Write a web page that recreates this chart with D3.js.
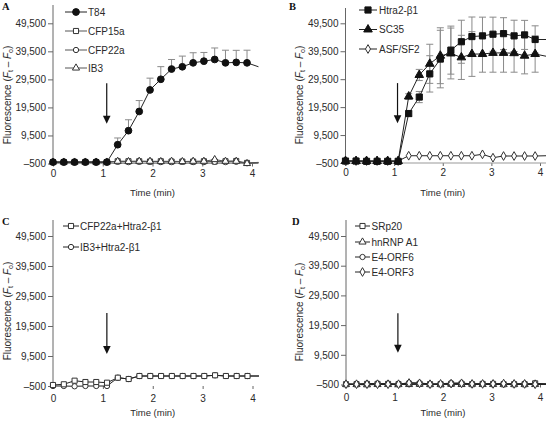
<!DOCTYPE html>
<html><head><meta charset="utf-8">
<script src="https://cdn.jsdelivr.net/npm/d3@7"></script>
<style>
body{margin:0;background:#fff}
svg{display:block}
text{font-family:"Liberation Sans",Arial,Helvetica,sans-serif}
</style>
</head><body>
<svg id="chart" width="546" height="421"></svg>
<script>
// ---------- shared data ----------
const times = [0, 0.217, 0.433, 0.65, 0.867, 1.083, 1.3, 1.517, 1.733, 1.95, 2.167, 2.383, 2.6, 2.817, 3.033, 3.25, 3.467, 3.683, 3.9];
const tailTime = 4.13;
const xTicks = [0, 1, 2, 3, 4];
const xTickLabels = ["0", "1", "2", "3", "4"];
const yTicks = [-500, 9500, 19500, 29500, 39500, 49500];
const yTickLabels = ["\u2013500", "9,500", "19,500", "29,500", "39,500", "49,500"];
const panelLetters = ["A", "B", "C", "D"];
const xTitle = "Time (min)";

// ---------- panel A ----------
const namesA = ["T84", "CFP15a", "CFP22a", "IB3"];
const t84 = [0, 0, 0, 0, 0, 0, 6200, 11200, 18050, 25740, 29540, 33190, 34000, 35400, 36000, 36600, 35400, 35560, 35400];
const t84Err = [0, 0, 0, 0, 0, 0, 2400, 3900, 3900, 4200, 4500, 3400, 3800, 3600, 3100, 4100, 4500, 4300, 4500];
const cfp15a = [0, 0, 0, 0, 0, 0, 300, 300, 300, 200, 300, 200, 200, 200, 300, 200, 300, 400, -300];
const cfp22a = [0, 0, 0, 0, 0, 0, 100, 0, 100, 100, 0, 0, 100, 0, 0, 100, 0, 100, -400];
const ib3 = [0, 0, 0, 0, 0, 0, 300, 200, 300, 300, 200, 300, 200, 300, 300, 900, 300, 300, -500];
const tailA = [34000, -100, -200, -200];
const arrowA = [1.08, 28100, 13700];

// ---------- panel B ----------
const namesB = ["Htra2-\u03B21", "SC35", "ASF/SF2"];
const htra2 = [200, 200, 100, 100, 100, 100, 17200, 23100, 31400, 36700, 39900, 42900, 44750, 45000, 45600, 45800, 45000, 45350, 43700];
const htra2Err = [0, 0, 0, 0, 0, 0, 1000, 2000, 6500, 10300, 8600, 7700, 7000, 6700, 6100, 5700, 5600, 5200, 4900];
const sc35 = [200, 200, 200, 200, 200, 200, 23300, 31000, 35000, 37900, 38700, 37300, 38500, 38500, 38900, 38900, 38800, 37900, 38500];
const sc35Err = [0, 0, 0, 0, 0, 0, 1000, 2000, 7000, 10000, 9100, 7900, 8000, 6500, 6900, 6900, 6800, 6500, 6500];
const asfsf2 = [200, 200, 200, 200, 200, 200, 2100, 2100, 2100, 2100, 2100, 2100, 2100, 2600, 1400, 2000, 2000, 2000, 2000];
const tailB = [43700, 37700, 2100];
const arrowB = [1.07, 28100, 13700];

// ---------- panel C ----------
const namesC = ["CFP22a+Htra2-\u03B21", "IB3+Htra2-\u03B21"];
const cfp22aHtra2 = [-170, 70, 1270, 830, 830, 600, 2270, 1830, 2830, 2830, 2830, 2830, 2830, 2830, 2830, 3070, 2830, 2830, 2830];
const ib3Htra2 = [-500, -500, -600, -500, -500, -500, 2270, 1830, 2830, 2830, 2830, 2830, 2830, 2830, 2830, 3070, 2830, 2830, 2830];
const tailC = [2830, 2830];
const arrowC = [1.08, 23800, 10200];

// ---------- panel D ----------
const namesD = ["SRp20", "hnRNP A1", "E4-ORF6", "E4-ORF3"];
const srp20 = [-400, -400, -300, -300, -300, -400, -300, -300, -400, -400, -300, -300, -400, -300, -300, -400, -400, -400, -100];
const hnrnpA1 = [-500, -500, -600, -500, -500, -500, -500, -400, -500, -500, -400, -500, -400, -500, -500, -500, -500, -500, -500];
const e4orf6 = [-300, -400, -200, -200, -200, -400, 100, 0, -300, -300, 0, 0, -300, -300, -200, -300, -300, -200, -400];
const e4orf3 = [-400, -400, -400, -400, -400, -400, 0, -100, -400, -300, -200, -100, -300, -300, -300, -200, -300, -300, -400];
const tailD = [-300, -500, -300, -400];
const arrowD = [1.07, 23500, 10200];

// ---------- drawing ----------
const svg = d3.select("#chart");
const TXT = "#2a2a2a", AX = "#666";

const symbolOf = {
  circle: d3.symbolCircle, square: d3.symbolSquare,
  triangle: d3.symbolTriangle, diamond: d3.symbolDiamond
};

function drawMarker(g, m, cx, cy) {
  g.append("path")
    .attr("d", d3.symbol().type(symbolOf[m.type]).size(m.size)())
    .attr("transform", `translate(${cx},${cy})`)
    .attr("fill", m.filled ? "#111" : "#fff")
    .attr("stroke", m.filled ? "#111" : (m.stroke || "#333"))
    .attr("stroke-width", 1);
}

function drawPanel(cfg) {
  const g = svg.append("g");
  const x = d3.scaleLinear().domain([0, 4]).range(cfg.xr);
  const y = d3.scaleLinear().domain([-500, 49500]).range(cfg.yr);

  // panel letter
  g.append("text").attr("x", cfg.letter[0]).attr("y", cfg.letter[1])
    .style("font-family", "'Liberation Serif','Times New Roman',serif")
    .attr("font-weight", "bold").attr("font-size", 10.5).attr("fill", "#111")
    .text(cfg.letterText);

  // y axis
  g.append("line").attr("x1", x(0)).attr("x2", x(0))
    .attr("y1", cfg.axisTop).attr("y2", y(-500) + 1).attr("stroke", AX).attr("stroke-width", 1);
  const ya = g.append("g").attr("transform", `translate(${x(0)},0)`)
    .call(d3.axisLeft(y).tickValues(yTicks).tickFormat((d, i) => yTickLabels[i]).tickSize(5).tickPadding(2));
  ya.select(".domain").remove();
  ya.selectAll("line").attr("stroke", AX);
  ya.selectAll("text").attr("font-size", 10).attr("fill", TXT);

  // x axis
  const xa = g.append("g").attr("transform", `translate(0,${y(-500)})`)
    .call(d3.axisBottom(x).tickValues(xTicks).tickFormat((d, i) => xTickLabels[i]).tickSize(3).tickPadding(cfg.xPad));
  xa.select(".domain").remove();
  xa.selectAll("line").attr("stroke", AX);
  xa.selectAll("text").attr("font-size", 10).attr("fill", TXT);
  if (cfg.baseLine) {
    g.append("line").attr("x1", x(0)).attr("x2", x(tailTime))
      .attr("y1", y(-500)).attr("y2", y(-500)).attr("stroke", "#999").attr("stroke-width", 1);
  }

  // axis titles
  g.append("text").attr("x", (x(0) + x(4)) / 2).attr("y", cfg.xTitleY)
    .attr("text-anchor", "middle").attr("font-size", 9.5).attr("fill", TXT).text(xTitle);
  const yt = g.append("text")
    .attr("transform", `translate(${cfg.yTitle[0]},${cfg.yTitle[1]}) rotate(-90)`)
    .attr("text-anchor", "middle").attr("font-size", 10).attr("fill", TXT);
  yt.append("tspan").text("Fluorescence (");
  yt.append("tspan").attr("font-style", "italic").text("F");
  yt.append("tspan").attr("font-size", 7).attr("dy", 2).text("t");
  yt.append("tspan").attr("dy", -2).text(" \u2013 ");
  yt.append("tspan").attr("font-style", "italic").text("F");
  yt.append("tspan").attr("font-size", 7).attr("dy", 2).text("o");
  yt.append("tspan").attr("dy", -2).text(")");

  // error bars
  cfg.series.forEach(s => {
    if (!s.err) return;
    s.values.forEach((v, i) => {
      const e = s.err[i];
      if (!e) return;
      const cx = x(times[i]);
      const top = y(v + e), bot = s.both ? y(v - e) : y(v);
      g.append("line").attr("x1", cx).attr("x2", cx).attr("y1", top).attr("y2", bot)
        .attr("stroke", "#8a8a8a").attr("stroke-width", 1);
      g.append("line").attr("x1", cx - 3.5).attr("x2", cx + 3.5).attr("y1", top).attr("y2", top)
        .attr("stroke", "#8a8a8a").attr("stroke-width", 1);
      if (s.both) g.append("line").attr("x1", cx - 3.5).attr("x2", cx + 3.5).attr("y1", bot).attr("y2", bot)
        .attr("stroke", "#8a8a8a").attr("stroke-width", 1);
    });
  });

  // lines
  const line = d3.line().x(d => x(d[0])).y(d => y(d[1]));
  cfg.series.forEach(s => {
    const pts = s.values.map((v, i) => [times[i], v]).concat([[tailTime, s.tail]]);
    g.append("path").attr("d", line(pts)).attr("fill", "none")
      .attr("stroke", s.lineColor || "#222").attr("stroke-width", 1);
  });
  // markers
  cfg.series.forEach(s => {
    s.values.forEach((v, i) => drawMarker(g, s.marker, x(times[i]), y(v)));
  });

  // arrow
  const ax = x(cfg.arrow[0]), ay0 = y(cfg.arrow[1]), ay1 = y(cfg.arrow[2]);
  g.append("line").attr("x1", ax).attr("x2", ax).attr("y1", ay0).attr("y2", ay1 - 6)
    .attr("stroke", "#111").attr("stroke-width", 1.2);
  g.append("path").attr("d", `M${ax - 3.8},${ay1 - 8}L${ax + 3.8},${ay1 - 8}L${ax},${ay1}Z`).attr("fill", "#111");

  // legend
  const L = cfg.legend;
  cfg.legendOrder.forEach((s, i) => {
    const ly = L.ys[i];
    g.append("line").attr("x1", L.x0).attr("x2", L.x1).attr("y1", ly).attr("y2", ly)
      .attr("stroke", s.lineColor || "#222").attr("stroke-width", 1);
    drawMarker(g, s.marker, (L.x0 + L.x1) / 2, ly);
    g.append("text").attr("x", L.tx).attr("y", ly).attr("dy", "0.36em")
      .attr("font-size", 10).attr("fill", TXT).text(s.name);
  });
}

const mk = {
  filledCircle: { type: "circle", filled: true, size: 36 },
  openSquare: { type: "square", filled: false, size: 26 },
  openCircle: { type: "circle", filled: false, size: 22 },
  openTriangle: { type: "triangle", filled: false, size: 22 },
  filledSquare: { type: "square", filled: true, size: 38 },
  filledTriangle: { type: "triangle", filled: true, size: 32 },
  openDiamond: { type: "diamond", filled: false, size: 22 }
};

// Panel A
const sA = [
  { name: namesA[0], values: t84, err: t84Err, both: false, tail: tailA[0], marker: mk.filledCircle },
  { name: namesA[1], values: cfp15a, tail: tailA[1], marker: mk.openSquare, lineColor: "#555" },
  { name: namesA[2], values: cfp22a, tail: tailA[2], marker: mk.openCircle, lineColor: "#555" },
  { name: namesA[3], values: ib3, tail: tailA[3], marker: mk.openTriangle, lineColor: "#555" }
];
drawPanel({
  letterText: panelLetters[0], letter: [2, 9.5],
  xr: [53, 252], yr: [163.5, 23.3], axisTop: 5, xPad: 3, xTitleY: 196, yTitle: [11, 95],
  baseLine: true, arrow: arrowA,
  series: [sA[1], sA[2], sA[3], sA[0]], legendOrder: sA,
  legend: { x0: 65, x1: 87, tx: 88, ys: [12, 31, 50, 68] }
});

// Panel B
const sB = [
  { name: namesB[0], values: htra2, err: htra2Err, both: true, tail: tailB[0], marker: mk.filledSquare },
  { name: namesB[1], values: sc35, err: sc35Err, both: true, tail: tailB[1], marker: mk.filledTriangle },
  { name: namesB[2], values: asfsf2, tail: tailB[2], marker: mk.openDiamond }
];
drawPanel({
  letterText: panelLetters[1], letter: [289, 9.5],
  xr: [345.5, 540], yr: [163, 23.3], axisTop: 8, xPad: 3, xTitleY: 196, yTitle: [303, 95],
  baseLine: true, arrow: arrowB,
  series: [sB[2], sB[1], sB[0]], legendOrder: sB,
  legend: { x0: 359, x1: 377, tx: 379, ys: [10, 29.5, 49] }
});

// Panel C
const sC = [
  { name: namesC[0], values: cfp22aHtra2, tail: tailC[0], marker: mk.openSquare },
  { name: namesC[1], values: ib3Htra2, tail: tailC[1], marker: mk.openCircle }
];
drawPanel({
  letterText: panelLetters[2], letter: [2, 225],
  xr: [53, 252.5], yr: [386, 236], axisTop: 220, xPad: 5.5, xTitleY: 416, yTitle: [11, 311],
  baseLine: false, arrow: arrowC,
  series: [sC[1], sC[0]], legendOrder: sC,
  legend: { x0: 63, x1: 79, tx: 80, ys: [226, 247] }
});

// Panel D
const sD = [
  { name: namesD[0], values: srp20, tail: tailD[0], marker: mk.openSquare },
  { name: namesD[1], values: hnrnpA1, tail: tailD[1], marker: mk.openTriangle },
  { name: namesD[2], values: e4orf6, tail: tailD[2], marker: mk.openCircle },
  { name: namesD[3], values: e4orf3, tail: tailD[3], marker: mk.openDiamond }
];
drawPanel({
  letterText: panelLetters[3], letter: [292, 225],
  xr: [346, 540], yr: [384.5, 236], axisTop: 220, xPad: 6.5, xTitleY: 416, yTitle: [303, 312],
  baseLine: true, arrow: arrowD,
  series: [sD[1], sD[0], sD[2], sD[3]], legendOrder: sD,
  legend: { x0: 355, x1: 370, tx: 371.5, ys: [226, 242, 257, 272] }
});
</script>
</body></html>
